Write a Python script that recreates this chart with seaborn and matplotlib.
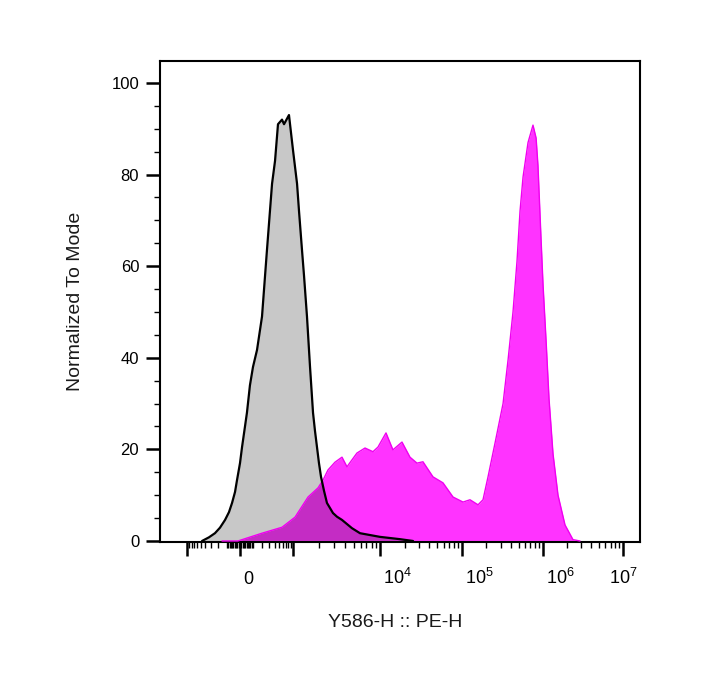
import numpy as np
import matplotlib
matplotlib.use('Agg')
import matplotlib.pyplot as plt
import matplotlib.transforms as mtransforms
from matplotlib.ticker import FixedLocator
import seaborn as sns

# unstained control: Y586-H :: PE-H intensity vs % of mode
control_x = [-471, -327, -234, -172, -120, -85, -60, -37, -22, 0, 15, 37, 52, 76, 102,
             140, 195, 261, 345, 404, 471, 578, 640, 820, 1000, 1115, 1175, 1272, 1341,
             1452, 1574, 1704, 1796, 1893, 1995, 2106, 2277, 2465, 2670, 2890, 3213,
             3668, 4770, 5900, 10000, 17500, 25300]
control_y = [0, 0.8, 1.7, 2.9, 4.6, 6.3, 8.3, 10.7, 13.3, 17, 20.5, 25, 28, 34, 38,
             41.7, 49, 63.5, 78, 83, 91, 92, 91, 93, 85.4, 78, 72, 63.5, 58,
             49, 38, 28, 24, 20.5, 17, 14, 11, 8.3, 7.2, 6.1, 5.3,
             4.6, 2.8, 1.7, 0.9, 0.4, 0]

# stained sample
stained_x = [-150, -15, 37, 195, 578, 1056, 1493, 1946, 2220, 2531, 3045, 3668, 4185,
             4770, 5445, 6735, 8313, 9483, 11840, 14400, 18550, 23220, 28260, 33400,
             44300, 58600, 77700, 102900, 125500, 157600, 181600, 209400, 255700,
             321000, 370000, 426000, 477000, 520000, 567000, 653000, 752000, 821000,
             866000, 945000, 1000000, 1090000, 1189000, 1334000, 1540000, 1884000,
             2370000, 2900000]
stained_y = [0, 0, 0.5, 1.7, 3, 5.2, 9.6, 11.6, 13.3, 15.5, 17.2, 18.3, 16.2,
             17.7, 19.2, 20.3, 19.5, 20.5, 23.6, 19.9, 21.6, 18.3, 17, 17.3,
             14, 12.7, 9.6, 8.5, 9, 7.9, 9, 14, 21.4,
             30, 39.5, 50, 61, 72, 79.5, 87, 90.8, 88,
             82, 66, 56, 44, 31, 19, 10, 3.5,
             0.3, 0]

major_ticks = [-1e3, 0, 1e3, 1e4, 1e5, 1e6, 1e7]
major_labels = ['', '0', '', '$10^{4}$', '$10^{5}$', '$10^{6}$', '$10^{7}$']
minor_ticks = [s * k * d for d in (10, 100) for k in range(1, 10) for s in (1, -1)
               if k * d != 1000]
minor_ticks += [k * d for d in (1e3, 1e4, 1e5, 1e6) for k in range(2, 10)]

# biexponential-ish display axis (arcsinh, matched to FlowJo decade spacing)
W = 150.0
knot_values = np.array([-1e5, -1e4, -1e3, 0, 1e3, 1e4, 1e5, 1e6, 1e7, 1e8])
knot_pos = np.array([-2.741, -1.728, -0.654, 0, 0.654, 1.728, 2.741, 3.741, 4.728, 5.728])
knot_u = np.arcsinh(knot_values / W)


def biex(x):
    return np.interp(np.arcsinh(np.asarray(x, dtype=float) / W), knot_u, knot_pos)


def biex_inv(p):
    return W * np.sinh(np.interp(np.asarray(p, dtype=float), knot_pos, knot_u))


sns.set_style('ticks')
plt.rcParams['font.family'] = ['Liberation Sans', 'DejaVu Sans']
plt.rcParams['mathtext.fontset'] = 'custom'
plt.rcParams['mathtext.rm'] = 'Liberation Sans'
plt.rcParams['mathtext.it'] = 'Liberation Sans:italic'
plt.rcParams['mathtext.bf'] = 'Liberation Sans:bold'

fig = plt.figure(figsize=(7.02, 6.92), dpi=100)
ax = fig.add_axes([160 / 702, 1 - 542 / 692, 480 / 702, 481 / 692])
ax.set_xscale('function', functions=(biex, biex_inv))

grey = ax.fill_between(control_x, control_y, 0, color='#c8c8c8', lw=0, zorder=1)
ax.fill_between(stained_x, stained_y, 0, color='#ff33ff', lw=0, zorder=2)
overlap = ax.fill_between(stained_x, stained_y, 0, color='#c42cc4', lw=0, zorder=3)
overlap.set_clip_path(grey.get_paths()[0], grey.get_transform())
sns.lineplot(x=stained_x, y=stained_y, color='#f000f0', lw=1, sort=False, ax=ax, zorder=4)
sns.lineplot(x=control_x, y=control_y, color='black', lw=1.6, sort=False, ax=ax, zorder=5)

ax.set_xlim(biex_inv(-80 / 81), biex_inv(400 / 81))
ax.set_ylim(-0.22, 104.8)

ax.xaxis.set_major_locator(FixedLocator(major_ticks))
ax.xaxis.set_minor_locator(FixedLocator(minor_ticks))
ax.set_xticklabels(major_labels)
ax.set_yticks(range(0, 101, 20))
ax.set_yticks([v for v in range(5, 101, 5) if v % 20], minor=True)

ax.tick_params(which='major', direction='out', length=10, width=1.8, color='black',
               labelsize=12, labelcolor='black')
ax.tick_params(which='minor', direction='out', length=4.5, width=1, color='black')
ax.tick_params(axis='y', which='major', pad=5)
ax.tick_params(axis='x', which='major', pad=20, labelsize=13)

shift = mtransforms.ScaledTranslation(3 / 100, 0, fig.dpi_scale_trans)
xlabels = ax.get_xticklabels()
for lab in xlabels:
    lab.set_verticalalignment('baseline')
for lab in xlabels[:-1]:
    lab.set_horizontalalignment('left')
    lab.set_transform(lab.get_transform() + shift)

for side in ax.spines.values():
    side.set_linewidth(1.5)
    side.set_color('black')

ax.set_xlabel('Y586-H :: PE-H', fontsize=14, va='center', color='#1a1a1a')
ax.set_ylabel('Normalized To Mode', fontsize=14, va='center', color='#1a1a1a')
ax.xaxis.set_label_coords(0.49, -0.168)
ax.yaxis.set_label_coords(-0.175, 0.5)

fig.savefig('out.png', dpi=100)
